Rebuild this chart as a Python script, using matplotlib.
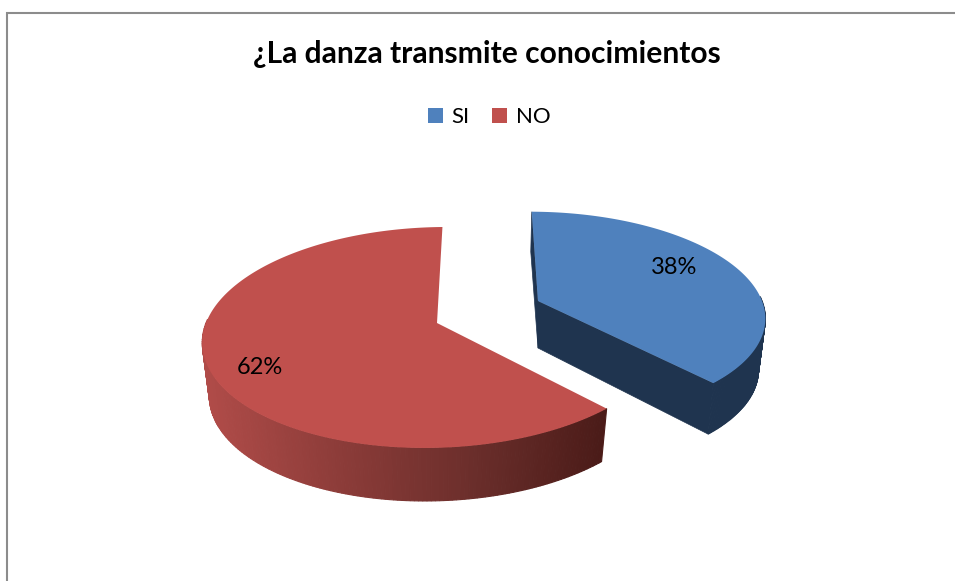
import numpy as np
import matplotlib
matplotlib.use('Agg')
import matplotlib.pyplot as plt
from matplotlib.colors import to_rgb
from matplotlib.patches import Patch

plt.rcParams['font.family'] = ['Lato', 'DejaVu Sans']

categories = ['SI', 'NO']
values = [38, 62]
labels = ['38%', '62%']
title = '¿La danza transmite conocimientos'

colors = ['#4f81bd', '#c0504d']
K = 0.131


def project(theta, r, apex, rx, ry, shear):
    # theta is clockwise from the top of the pie, disc tilted with some perspective
    u = r * np.sin(theta)
    v = r * np.cos(theta)
    f = 1.0 / (1.0 + K * v)
    return apex[0] + (rx * u + shear * v) * f, apex[1] - ry * v * f


def shade(stops, t):
    t = np.clip(t, 0, 1)
    xs = np.linspace(0, 1, len(stops))
    rgb = np.array([to_rgb(s) for s in stops])
    return [np.interp(t, xs, rgb[:, i]) for i in range(3)]


def draw_slice(ax, start, sweep, apex, rx, ry, shear, side_stops, depth, inset, direction):
    theta = np.radians(np.linspace(start, start + direction * sweep, 240))
    x, y = project(theta, 1.0, apex, rx, ry, shear)
    # bottom rim: same rim moved down, pulled a little inwards
    xb = apex[0] + (x - apex[0]) * inset
    yb = y + depth
    xmin, xmax = x.min(), x.max()
    for i in range(len(x) - 1):
        # only the front part of the rim is visible
        if np.cos(theta[i]) > 0.05:
            continue
        c = shade(side_stops, (x[i] - xmin) / (xmax - xmin))
        ax.fill([x[i], x[i + 1], xb[i + 1], xb[i]], [y[i], y[i + 1], yb[i + 1], yb[i]],
                color=c, lw=0.8, zorder=2)
    return x, y, xb, yb


fig = plt.figure(figsize=(9.55, 5.81), dpi=100)
ax = fig.add_axes([0, 0, 1, 1])
ax.set_xlim(0, 955)
ax.set_ylim(581, 0)
ax.axis('off')

# chart frame, only top and left fall inside the crop
ax.plot([7, 7, 955], [581, 13, 13], color='#8c8c8c', lw=1.5, zorder=1, solid_joinstyle='miter')

sweeps = [360.0 * v / sum(values) for v in values]

# NO slice
red_apex = (437, 323)
x, y, xb, yb = draw_slice(ax, -1.2, sweeps[1], red_apex, 231, 108.6, 11,
                          ['#b14c49', '#8c3c39', '#6b2e2b', '#4a1b18'], 53, 0.97, -1)
ax.fill(np.r_[red_apex[0], x], np.r_[red_apex[1], y], color=colors[1], lw=0, zorder=3)

# SI slice: cut face first, then the rim and the top
blue_apex = (538, 301)
x, y, xb, yb = draw_slice(ax, 0.5, sweeps[0], blue_apex, 224, 101, -9,
                          ['#1f344f', '#1f344f'], 51, 0.97, 1)
ax.fill([blue_apex[0], x[-1], xb[-1], blue_apex[0]],
        [blue_apex[1], y[-1], yb[-1], blue_apex[1] + 47], color='#1f344f', lw=0.5, zorder=2)
ax.fill([blue_apex[0], x[0], x[0] - 1, blue_apex[0]],
        [blue_apex[1], y[0], y[0] + 40, blue_apex[1] + 47], color='#1f344f', lw=0.5, zorder=2)
ax.fill(np.r_[blue_apex[0], x], np.r_[blue_apex[1], y], color=colors[0], lw=0, zorder=3)

ax.text(674, 268, labels[0], fontsize=17, ha='center', va='center', color='black', zorder=5)
ax.text(260, 367, labels[1], fontsize=17, ha='center', va='center', color='black', zorder=5)
ax.text(487, 54, title, fontsize=21.6, fontweight='bold', ha='center', va='center', color='black')

handles = [Patch(facecolor=c, label=n) for c, n in zip(colors, categories)]
ax.legend(handles=handles, loc='center', bbox_to_anchor=(489 / 955, 1 - 117 / 581), ncol=2,
          frameon=False, fontsize=16, handlelength=0.67, handleheight=0.67,
          handletextpad=0.4, columnspacing=1.0, borderpad=0, borderaxespad=0)

fig.savefig('out.png', dpi=100)
